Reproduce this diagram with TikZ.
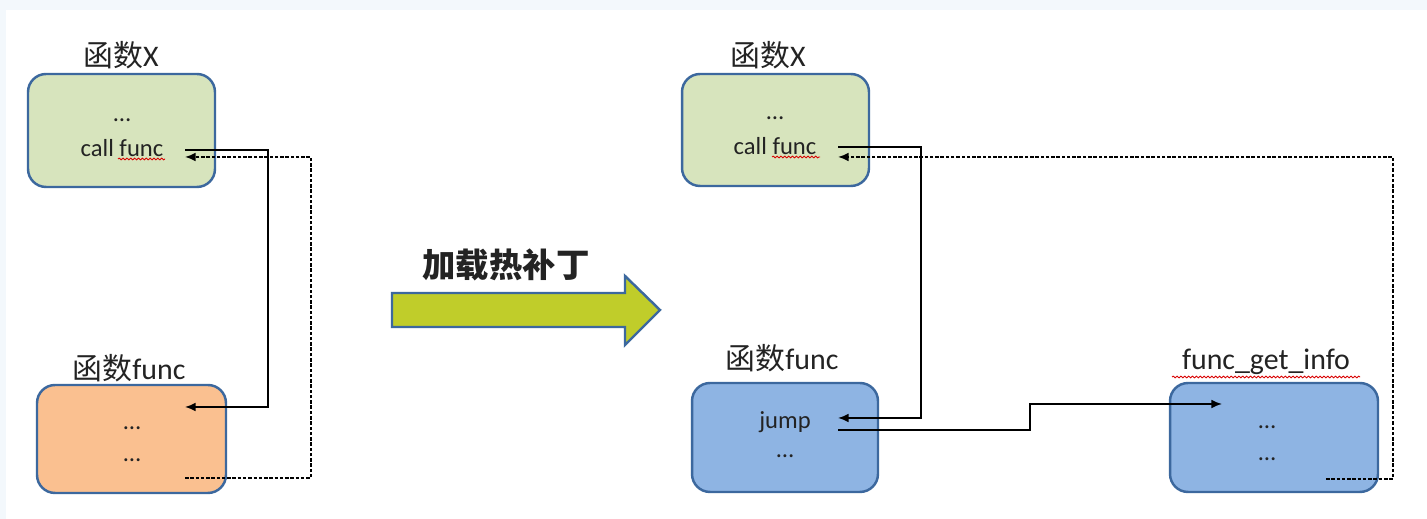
\documentclass[tikz,border=0pt]{standalone}
\usepackage{fontspec}
\setmainfont{Carlito}
\newfontfamily\cjk{Noto Sans CJK SC}
\usepackage{tikz}
\usetikzlibrary{positioning,arrows.meta,decorations.pathmorphing}

\definecolor{boxblue}{RGB}{60,104,158}
\definecolor{fillgreen}{RGB}{215,228,189}
\definecolor{fillorange}{RGB}{250,192,144}
\definecolor{fillblue}{RGB}{142,180,227}
\definecolor{patchgreen}{RGB}{192,205,42}
\definecolor{txt}{RGB}{35,35,35}
\definecolor{frame}{RGB}{243,248,252}

\tikzset{
  fnbox/.style={rectangle,draw=boxblue,line width=1.4pt,rounded corners=0.36cm,inner sep=0pt},
  fnlabel/.style={text=txt,font=\fontsize{17}{19}\selectfont,inner sep=0pt},
  fntext/.style={text=txt,font=\fontsize{14}{16}\selectfont,inner sep=0pt},
  flow/.style={line width=1pt,-{Latex[length=6pt,width=5pt]}},
  backflow/.style={line width=1pt,-{Latex[length=6pt,width=5pt]},dash pattern=on 2pt off 1pt},
  spell/.style={red!85!black,line width=0.5pt,decorate,decoration={snake,amplitude=0.5pt,segment length=2.2pt}}
}

\begin{document}
\begin{tikzpicture}[x=0.02cm,y=-0.02cm]
      % background
      \fill[frame] (0,0) rectangle (1427,519);
      \fill[white] (6,10) rectangle (1427,519);
      \useasboundingbox (0,0) rectangle (1427,519);

      % before patching
      \node[fnbox,fill=fillgreen,minimum width=3.74cm,minimum height=2.26cm] (xl) at (121.5,130.5) {};
      \node[fnbox,fill=fillorange,minimum width=3.78cm,minimum height=2.16cm] (funcl) at (131.5,439) {};
      \node[fnlabel] (xllab) at (121,55) {{\cjk 函数}X};
      \node[fnlabel] (funcllab) at (129,368) {{\cjk 函数}func};
      \node[fntext] (xldots) at (122,120) {…};
      \node[fntext] (xlcall) at (122,148) {call func};
      \node[fntext] (funcldotsa) at (132,428) {…};
      \node[fntext] (funcldotsb) at (132,460) {…};

      % after patching
      \node[fnbox,fill=fillgreen,minimum width=3.74cm,minimum height=2.24cm] (xr) at (775.5,130) {};
      \node[fnbox,fill=fillblue,minimum width=3.72cm,minimum height=2.18cm] (funcr) at (785,437.5) {};
      \node[fnbox,fill=fillblue,minimum width=4.16cm,minimum height=2.18cm] (info) at (1274,437.5) {};
      \node[fnlabel] (xrlab) at (768,55) {{\cjk 函数}X};
      \node[fnlabel] (funcrlab) at (782,358) {{\cjk 函数}func};
      \node[fnlabel] (infolab) at (1266,362) {func\_get\_info};
      \node[fntext] (xrdots) at (775,118) {…};
      \node[fntext] (xrcall) at (775,146) {call func};
      \node[fntext] (jump) at (785,422) {jump};
      \node[fntext] (funcrdots) at (785,456) {…};
      \node[fntext] (infodotsa) at (1267,427) {…};
      \node[fntext] (infodotsb) at (1267,459) {…};

      % spell check marks
      \draw[spell] (118,159) -- (165,159);
      \draw[spell] (772,157) -- (820,157);
      \draw[spell] (1172,377) -- (1360,377);

      % hot patch arrow
      \draw[boxblue,line width=1.4pt,fill=patchgreen] (392,293) -- (625,293) -- (625,276) -- (660,310) -- (625,345) -- (625,327) -- (392,327) -- cycle;
      \node[text=txt,inner sep=0pt,font=\cjk\bfseries\fontsize{19}{21}\selectfont] (patch) at (506,265) {加载热补丁};

      % connector ends
      \coordinate (xlout) at (185,150);
      \coordinate (xlret) at (185,157);
      \coordinate (funclin) at (185,407);
      \coordinate (funclout) at (185,478);
      \coordinate (xrout) at (838,147);
      \coordinate (xrret) at (838,157);
      \coordinate (funcrin) at (838,418);
      \coordinate (funcrout) at (838,430);
      \coordinate (infoin) at (1222,404);
      \coordinate (infoout) at (1326,479);

      % call and return, before
      \draw[flow] (xlout) -- (268,150) |- (funclin);
      \draw[backflow] (funclout) -- (311,478) |- (xlret);

      % call, jump and return, after
      \draw[flow] (xrout) -- (921,147) |- (funcrin);
      \draw[flow] (funcrout) -- (1030,430) |- (infoin);
      \draw[backflow] (infoout) -- (1393,479) |- (xrret);

\end{tikzpicture}
\end{document}
